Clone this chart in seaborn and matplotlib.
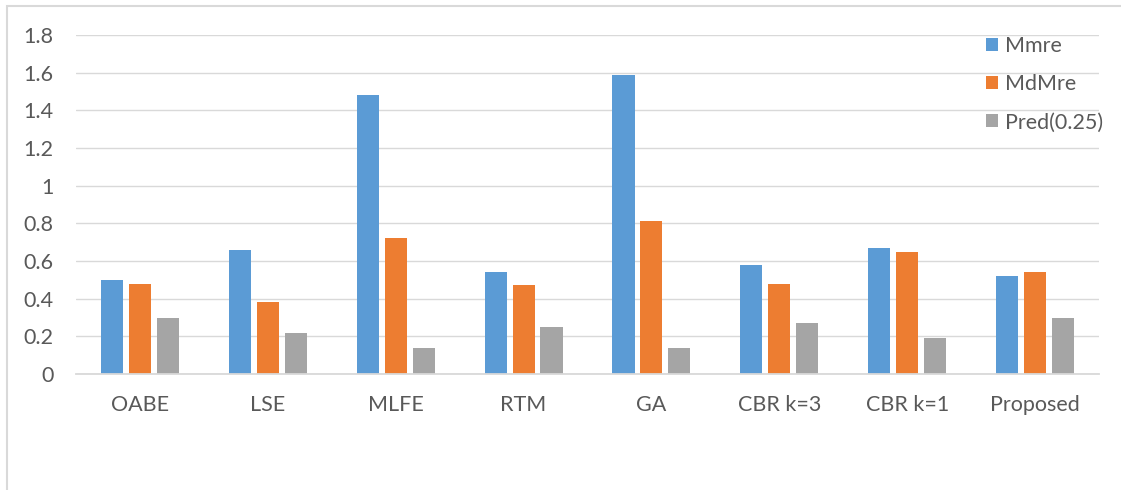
import matplotlib
matplotlib.use("Agg")
import matplotlib.pyplot as plt
import seaborn as sns
import pandas as pd
from matplotlib.patches import Rectangle
from matplotlib.ticker import FuncFormatter

categories = ["OABE", "LSE", "MLFE", "RTM", "GA", "CBR k=3", "CBR k=1", "Proposed"]
mmre = [0.50, 0.66, 1.48, 0.54, 1.59, 0.58, 0.67, 0.52]
mdmre = [0.48, 0.38, 0.72, 0.47, 0.81, 0.48, 0.65, 0.54]
pred = [0.30, 0.22, 0.14, 0.25, 0.14, 0.27, 0.19, 0.30]
series_names = ["Mmre", "MdMre", "Pred(0.25)"]
colors = ["#5B9BD5", "#ED7D31", "#A5A5A5"]
yticks = [0, 0.2, 0.4, 0.6, 0.8, 1.0, 1.2, 1.4, 1.6, 1.8]

rows = []
for name, vals in zip(series_names, [mmre, mdmre, pred]):
    for c, v in zip(categories, vals):
        rows.append({"category": c, "series": name, "value": v})
df = pd.DataFrame(rows)

sns.set_theme(style="white")
plt.rcParams["font.family"] = ["Lato", "DejaVu Sans"]
TXT = "#595959"
FS = 15.5

fig = plt.figure(figsize=(11.21, 4.90), dpi=100)
ax = fig.add_axes([76 / 1121, 1 - 374 / 490, (1099 - 76) / 1121, (374 - 35) / 490])

sns.barplot(data=df, x="category", y="value", hue="series", order=categories,
            hue_order=series_names, palette=colors, width=0.656, gap=0.21,
            saturation=1, ax=ax, legend=True, edgecolor="none")

ax.set_ylim(0, 1.8)
ax.set_xlim(-0.5, len(categories) - 0.5)
ax.set_yticks(yticks)
ax.yaxis.set_major_formatter(FuncFormatter(lambda v, p: f"{v:g}"))
ax.grid(axis="y", color="#D9D9D9", linewidth=1.0)
ax.set_axisbelow(True)
for s in ["top", "right", "left"]:
    ax.spines[s].set_visible(False)
ax.spines["bottom"].set_color("#D9D9D9")
ax.spines["bottom"].set_linewidth(1.3)
ax.tick_params(axis="both", length=0, labelsize=FS, labelcolor=TXT)
ax.tick_params(axis="y", pad=16)
ax.tick_params(axis="x", pad=15)
ax.set_xlabel("")
ax.set_ylabel("")

handles, labels = ax.get_legend_handles_labels()
ax.legend(handles, labels, loc="upper left", bbox_to_anchor=(986 / 1121, 1 - 36 / 490),
          bbox_transform=fig.transFigure, frameon=False, fontsize=FS,
          handlelength=0.55, handleheight=0.55, handletextpad=0.35,
          labelspacing=0.85, labelcolor=TXT, borderpad=0, borderaxespad=0)

fig.patches.append(Rectangle((7 / 1121, -0.1), 1.1, 1.1 - 6 / 490,
                             transform=fig.transFigure, fill=False,
                             edgecolor="#D9D9D9", linewidth=1.5))

fig.savefig("out.png", dpi=100)
